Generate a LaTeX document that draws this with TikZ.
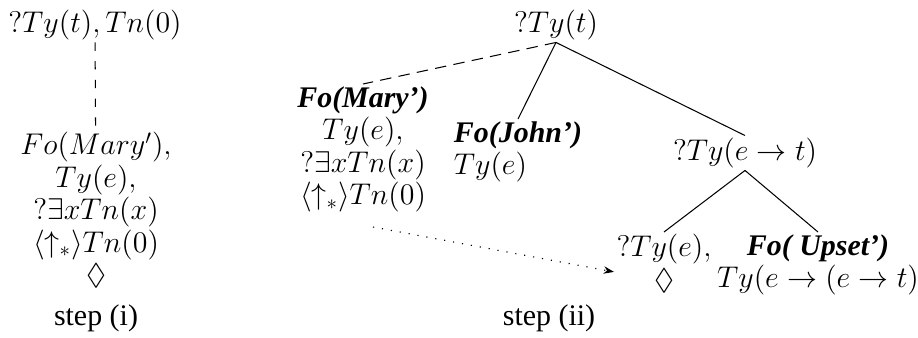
\documentclass[tikz,border=0pt]{standalone}
\usepackage{amssymb}
\usepackage{fontspec}
\setmainfont{Liberation Serif}
\usetikzlibrary{arrows.meta}

\newcommand{\formbf}[1]{\textbf{\textit{#1}}}

\begin{document}
\begin{tikzpicture}[
    x=0.481pt, y=-0.481pt,
    % text of the tree nodes
    lbl/.style={inner sep=1pt, align=center, font=\fontsize{14.4}{15.6}\selectfont},
    edge/.style={line width=0.5pt},
    link/.style={line width=0.5pt, dash pattern=on 4pt off 5pt},
    linkwide/.style={line width=0.5pt, dash pattern=on 5.5pt off 3.5pt},
    moved/.style={line width=0.55pt, dash pattern=on 0.55pt off 3.8pt, -{Stealth[length=5pt, width=3.6pt]}}
  ]
  \useasboundingbox (0,0) rectangle (918,338);

  % step (i)
  \node[lbl] (rootA) at (95,25) {$?Ty(t), Tn(0)$};
  \node[lbl, anchor=north] (maryA) at (96,130) {$Fo(Mary'),$\\ $Ty(e),$\\ $?\exists xTn(x)$\\ $\langle\uparrow_*\rangle Tn(0)$\\ $\Diamond$};
  \node[lbl] (stepA) at (96,318) {step (i)};
  \draw[link] (rootA) -- (maryA);

  % step (ii)
  \node[lbl] (rootB) at (556,25) {$?Ty(t)$};
  \node[lbl, anchor=north] (maryB) at (363,84) {\formbf{Fo(Mary’)}\\ $Ty(e),$\\ $?\exists xTn(x)$\\ $\langle\uparrow_*\rangle Tn(0)$};
  \node[lbl, align=left, anchor=north] (johnB) at (518,119) {\formbf{Fo(John’)}\\ $Ty(e)$};
  \node[lbl] (etB) at (745,153) {$?Ty(e\rightarrow t)$};
  \node[lbl, anchor=north] (tyeB) at (664,232) {$?Ty(e),$\\ $\Diamond$};
  \node[lbl, anchor=north] (upsetB) at (818,232) {\formbf{Fo( Upset’)}\\ $Ty(e\rightarrow(e\rightarrow t)$};
  \node[lbl] (stepB) at (549,318) {step (ii)};
  \coordinate (trace) at (373,227);

  \draw[linkwide] (rootB.south) -- (maryB.north);
  \draw[edge] (rootB.south) -- (johnB.north);
  \draw[edge] (rootB.south) -- (etB.north);
  \draw[edge] (etB.south) -- (tyeB.north);
  \draw[edge] (etB.south) -- (upsetB.north);
  \draw[moved] (trace) -- ([yshift=-4pt]tyeB.west);
\end{tikzpicture}
\end{document}
